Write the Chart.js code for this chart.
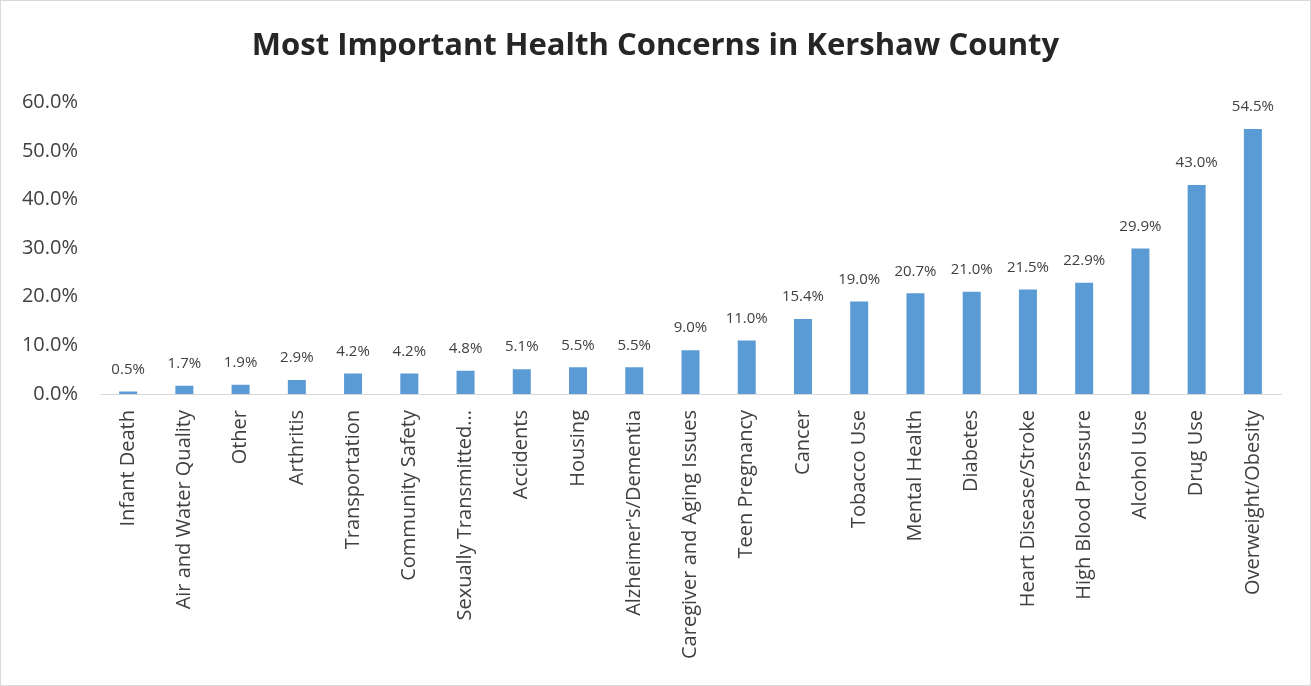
<!DOCTYPE html>
<html>
<head>
<meta charset="utf-8">
<script src="https://cdn.jsdelivr.net/npm/chart.js@4/dist/chart.umd.min.js"></script>
<style>
  html, body { margin: 0; padding: 0; background: #fff; }
  #wrap { position: relative; width: 1311px; height: 686px; box-sizing: border-box; border: 1px solid #d9d9d9; }
  canvas { display: block; }
</style>
</head>
<body>
<div id="wrap"><canvas id="c" width="1309" height="684"></canvas></div>
<script>
const categories = [
  "Infant Death", "Air and Water Quality", "Other", "Arthritis", "Transportation",
  "Community Safety", "Sexually Transmitted Diseases", "Accidents", "Housing",
  "Alzheimer's/Dementia", "Caregiver and Aging Issues", "Teen Pregnancy", "Cancer",
  "Tobacco Use", "Mental Health", "Diabetes", "Heart Disease/Stroke",
  "High Blood Pressure", "Alcohol Use", "Drug Use", "Overweight/Obesity"
];
const percentValues = [
  0.5, 1.7, 1.9, 2.9, 4.2, 4.2, 4.8, 5.1, 5.5, 5.5, 9.0, 11.0, 15.4,
  19.0, 20.7, 21.0, 21.5, 22.9, 29.9, 43.0, 54.5
];
const yTicks = [0, 10, 20, 30, 40, 50, 60];

const FONT = "'Open Sans', 'Liberation Sans', sans-serif";

// Percentage labels above each bar
const valueLabels = {
  id: 'valueLabels',
  afterDatasetsDraw(chart) {
    const ctx = chart.ctx;
    const meta = chart.getDatasetMeta(0);
    const data = chart.data.datasets[0].data;
    ctx.save();
    ctx.font = "15px " + FONT;
    ctx.fillStyle = "#404040";
    ctx.textAlign = "center";
    ctx.textBaseline = "middle";
    meta.data.forEach((bar, i) => {
      ctx.fillText(data[i].toFixed(1) + "%", bar.x, bar.y - 22);
    });
    ctx.restore();
  }
};

new Chart(document.getElementById('c'), {
  type: 'bar',
  data: {
    labels: categories,
    datasets: [{
      data: percentValues,
      backgroundColor: '#5b9bd5',
      borderWidth: 0,
      categoryPercentage: 1.0,
      barPercentage: 0.32
    }]
  },
  options: {
    responsive: false,
    animation: false,
    layout: { padding: 0 },
    plugins: {
      legend: { display: false },
      tooltip: { enabled: false },
      title: {
        display: true,
        text: 'Most Important Health Concerns in Kershaw County',
        color: '#262626',
        font: { family: FONT, size: 31, weight: 'bold' },
        padding: { top: 27, bottom: 37 }
      }
    },
    scales: {
      x: {
        grid: { display: false, drawTicks: false },
        border: { display: true, color: '#d9d9d9', width: 1 },
        ticks: {
          color: '#404040',
          font: { family: FONT, size: 20 },
          minRotation: 90,
          maxRotation: 90,
          autoSkip: false,
          padding: 16,
          callback: function (value, index) {
            const s = categories[index];
            return s.length > 27 ? s.slice(0, 20) + '...' : s;
          }
        },
        afterFit(scale) { scale.height = 291; }
      },
      y: {
        min: 0,
        max: 60,
        grid: { display: false, drawTicks: false },
        border: { display: false },
        afterBuildTicks(scale) { scale.ticks = yTicks.map(v => ({ value: v })); },
        ticks: {
          color: '#404040',
          font: { family: FONT, size: 20 },
          padding: 22,
          callback: v => Number(v).toFixed(1) + '%'
        },
        afterFit(scale) { scale.width = 99; }
      },
      // empty right-hand margin scale, keeps the plot clear of the right edge
      yRight: {
        position: 'right',
        grid: { display: false, drawTicks: false },
        border: { display: false },
        ticks: { display: false },
        afterFit(scale) { scale.width = 29; }
      }
    }
  },
  plugins: [valueLabels]
});
</script>
</body>
</html>
